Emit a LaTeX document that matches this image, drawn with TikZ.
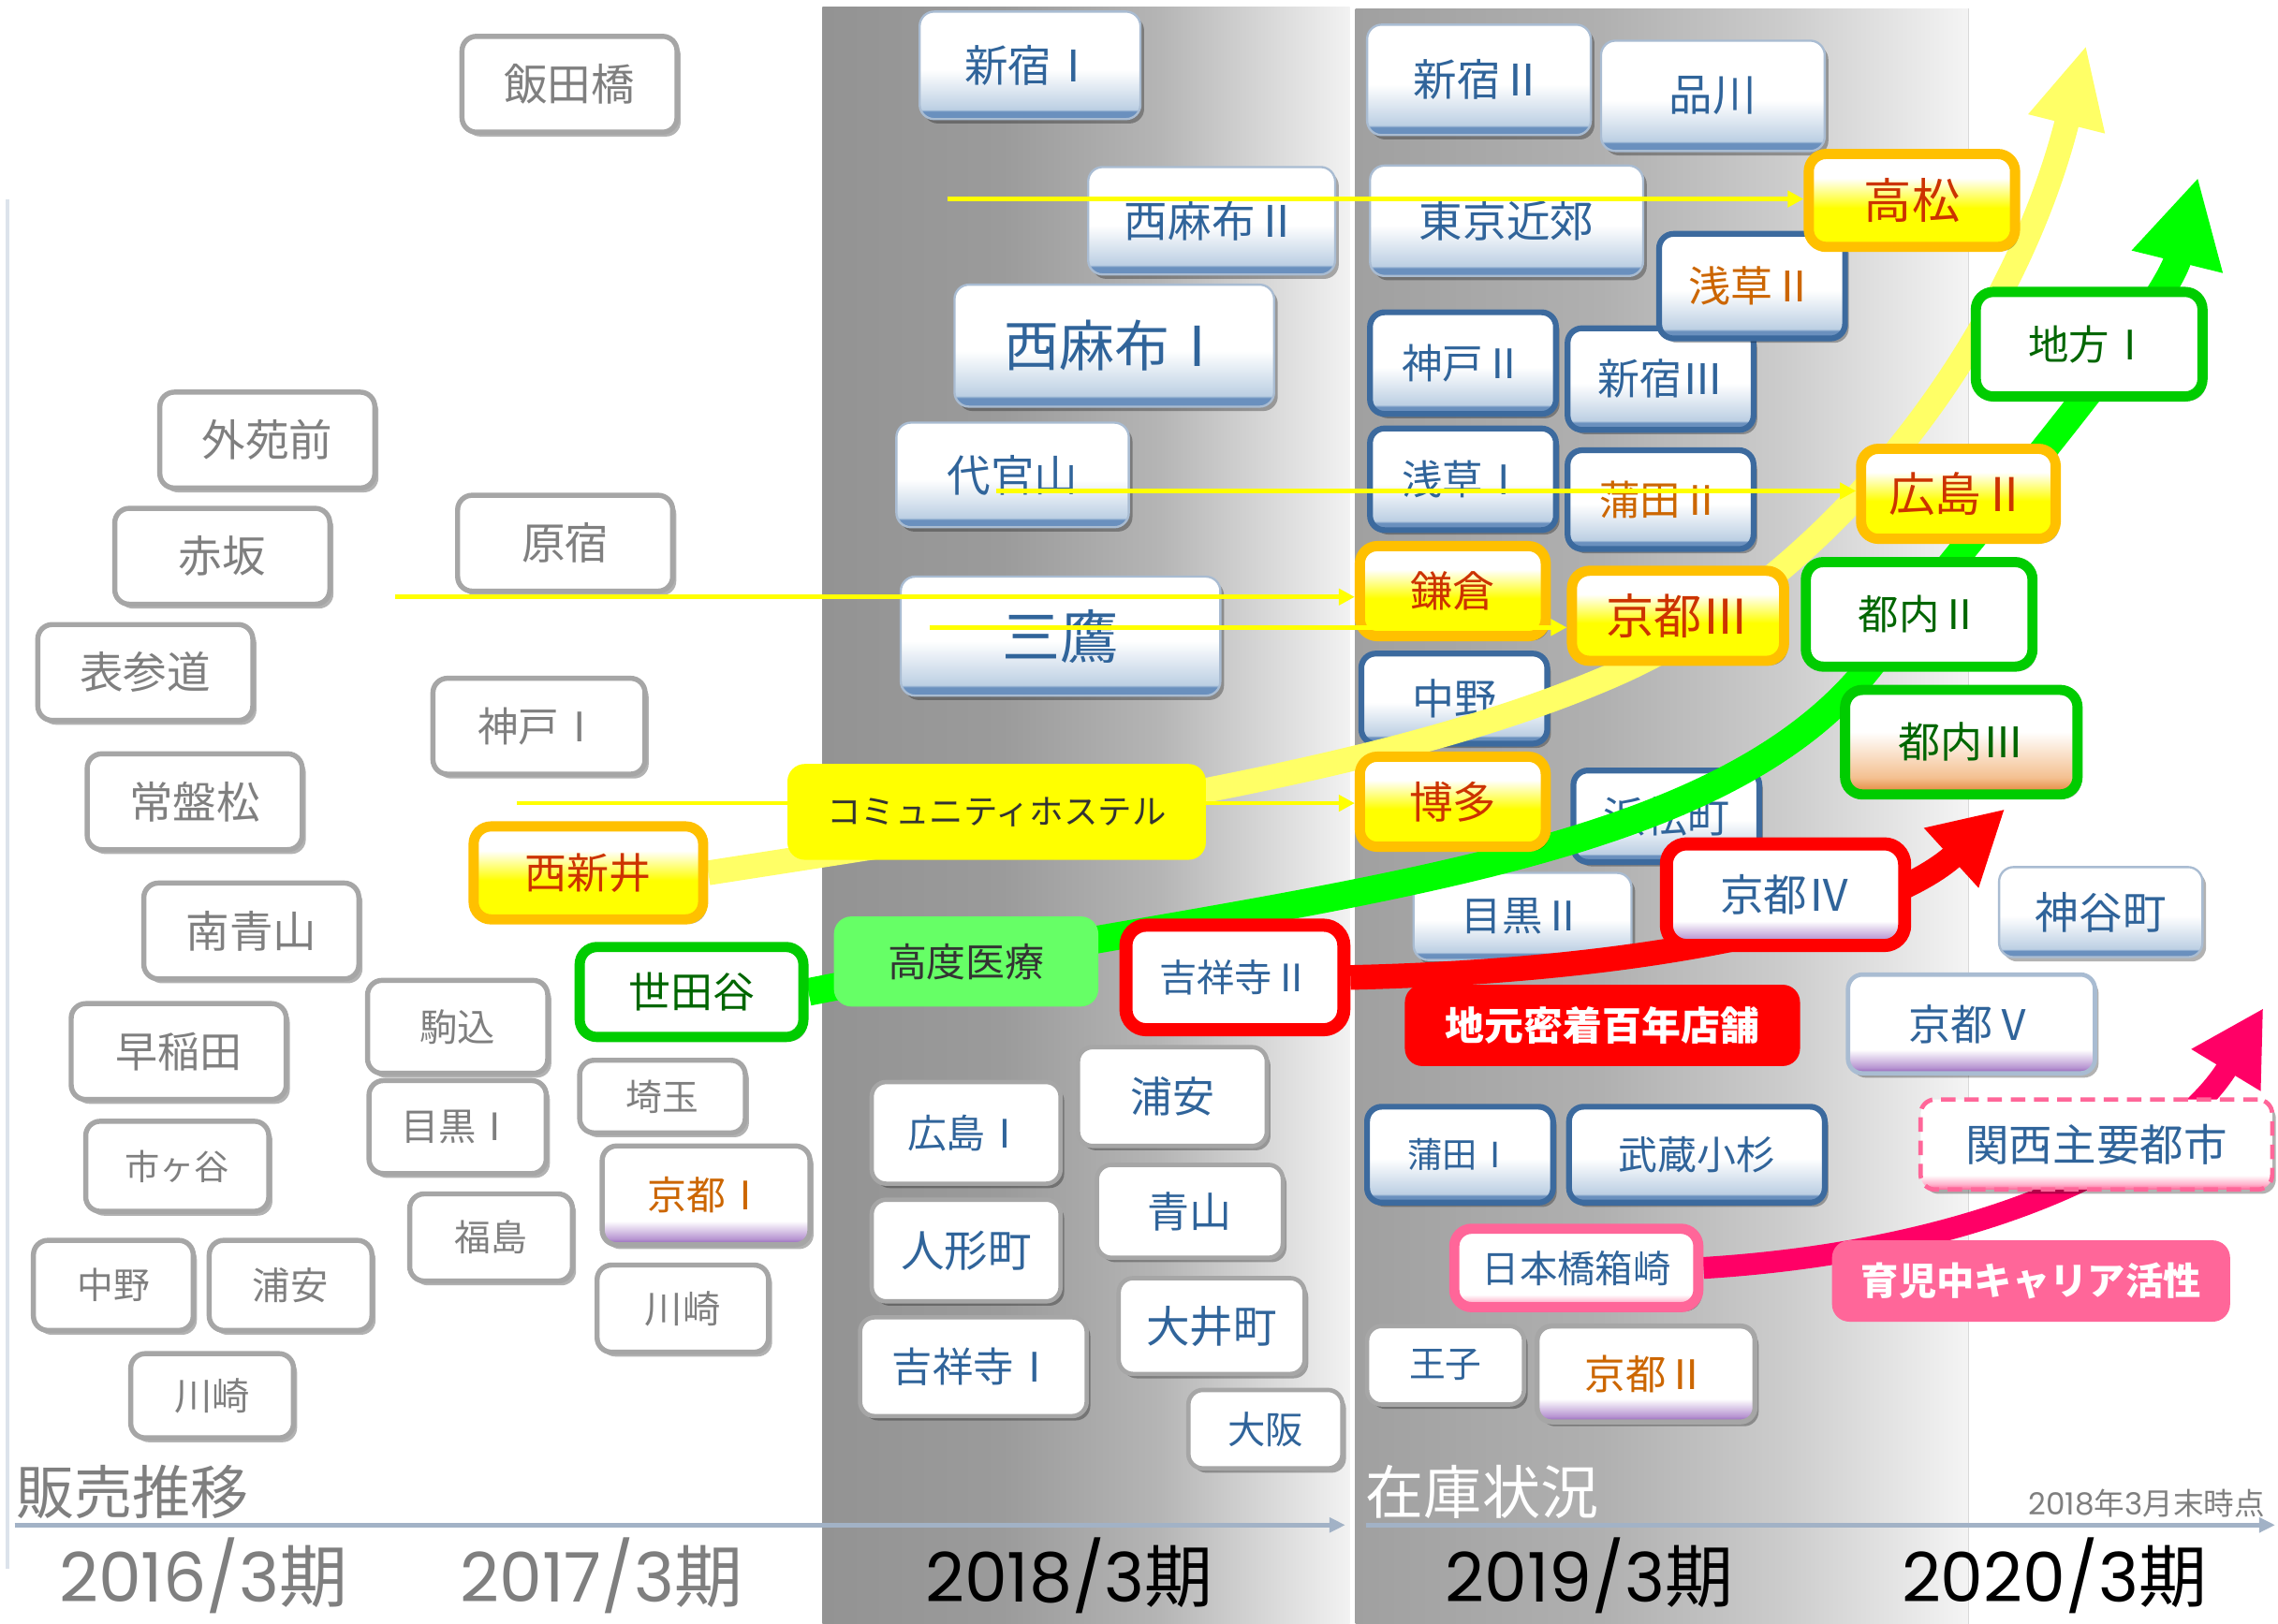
\documentclass[tikz,border=0pt]{standalone}
\usepackage{fontspec}
\setmainfont{Noto Sans CJK JP}
\newfontfamily\pop{Poppins}
\usetikzlibrary{arrows.meta,shadows}
\pgfdeclarelayer{bg}\pgfdeclarelayer{plain}\pgfdeclarelayer{arrows}\pgfdeclarelayer{front}
\pgfsetlayers{bg,plain,arrows,main,front}

\definecolor{txgray}{HTML}{7F7F7F}
\definecolor{bdgray}{HTML}{A6A6A6}
\definecolor{txblue}{HTML}{30649A}
\definecolor{bdblue}{HTML}{3C6A9E}
\definecolor{bdlblue}{HTML}{A9BCD2}
\definecolor{bstrip}{HTML}{6A90BE}
\definecolor{blight}{HTML}{BCCFE3}
\definecolor{txorange}{HTML}{CC6600}
\definecolor{txred}{HTML}{CC3300}
\definecolor{bdorange}{HTML}{FFC000}
\definecolor{ylw}{HTML}{FFFF00}
\definecolor{lylw}{HTML}{FFFF66}
\definecolor{grn}{HTML}{00CC00}
\definecolor{brgrn}{HTML}{00FF00}
\definecolor{txgreen}{HTML}{006600}
\definecolor{purp}{HTML}{8C58B4}
\definecolor{purpl}{HTML}{B896D2}
\definecolor{pnk}{HTML}{FF6699}
\definecolor{pnkl}{HTML}{FFB3CC}
\definecolor{hotpink}{HTML}{FF0066}
\definecolor{orng}{HTML}{E07E2E}
\definecolor{orngl}{HTML}{F4C090}
\definecolor{axisc}{HTML}{A2B2C6}
\definecolor{lgreen}{HTML}{66FF66}
\definecolor{dtext}{HTML}{333333}
\definecolor{leftln}{HTML}{DCE3EB}
\definecolor{bAa}{HTML}{939393}
\definecolor{bAb}{HTML}{9B9B9B}
\definecolor{bAc}{HTML}{B5B5B5}
\definecolor{bAd}{HTML}{F2F2F2}
\definecolor{bBa}{HTML}{A0A0A0}
\definecolor{bBb}{HTML}{B0B0B0}
\definecolor{bBc}{HTML}{CCCCCC}
\definecolor{bBd}{HTML}{F4F4F4}

\pgfdeclareverticalshading{bluesh}{100bp}{color(0bp)=(bstrip); color(25bp)=(bstrip); color(28.5bp)=(bstrip); color(29.5bp)=(blight); color(48bp)=(white); color(100bp)=(white)}
\pgfdeclareverticalshading{yelsh}{100bp}{color(0bp)=(ylw); color(25bp)=(ylw); color(46bp)=(ylw); color(62bp)=(white); color(100bp)=(white)}
\pgfdeclareverticalshading{purpsh}{100bp}{color(0bp)=(purp); color(25bp)=(purp); color(28bp)=(purpl); color(37bp)=(white); color(100bp)=(white)}
\pgfdeclareverticalshading{pinksh}{100bp}{color(0bp)=(pnk); color(25bp)=(pnk); color(28bp)=(pnkl); color(33bp)=(white); color(100bp)=(white)}
\pgfdeclareverticalshading{orngsh}{100bp}{color(0bp)=(orng); color(25bp)=(orng); color(33bp)=(orngl); color(55bp)=(white); color(100bp)=(white)}
\pgfdeclarehorizontalshading{bandA}{100bp}{color(0bp)=(bAa); color(25bp)=(bAa); color(42bp)=(bAb); color(57bp)=(bAc); color(75bp)=(bAd); color(100bp)=(bAd)}
\pgfdeclarehorizontalshading{bandB}{100bp}{color(0bp)=(bBa); color(25bp)=(bBa); color(45bp)=(bBb); color(60bp)=(bBc); color(75bp)=(bBd); color(100bp)=(bBd)}

\newcommand\myfs[1]{\fontsize{#1}{#1}\selectfont}
\newcommand\mynode[8]{\node[#1, minimum width=#5pt, minimum height=#6pt, font=\myfs{#7}] (#2) at (#3,#4) {#8};}

\tikzset{
 shd/.style={drop shadow={shadow xshift=2.5pt, shadow yshift=-3pt, fill=black, opacity=0.3}},
 bx/.style={rounded corners=10pt, inner sep=0pt, shd},
 gbox/.style={bx, fill=white, draw=bdgray, line width=3.5pt, text=txgray},
 wbox/.style={bx, fill=white, draw=bdgray, line width=3pt, text=txblue},
 bbox/.style={bx, shade, shading=bluesh, draw=bdlblue, line width=1.5pt, text=txblue},
 tbbox/.style={bx, shade, shading=bluesh, draw=bdblue, line width=4pt, text=txblue},
 pbox/.style={bx, shade, shading=purpsh},
 obox/.style={bx, shade, shading=yelsh, draw=bdorange, line width=7pt, text=txred, rounded corners=12pt},
 grbox/.style={bx, fill=white, draw=grn, line width=7pt, text=txgreen, rounded corners=12pt},
 rbox/.style={bx, draw=red, line width=9pt, rounded corners=14pt},
 pkbox/.style={bx, shade, shading=pinksh, draw=pnk, line width=7pt, text=txblue, rounded corners=12pt},
 lbl/.style={rounded corners=12pt, inner sep=0pt},
 ylline/.style={draw=ylw, line width=3pt, -{Triangle[length=11pt,width=11pt]}},
 axisline/.style={draw=axisc, line width=3pt, -{Triangle[length=11pt,width=10pt]}},
}

\begin{document}
\begin{tikzpicture}[x=1pt,y=-1pt]
\useasboundingbox (0,0) rectangle (1568,1118);
\coordinate (ax1s) at (10,1050);
\coordinate (ax1e) at (926,1050);
\coordinate (ax2s) at (940,1050);
\coordinate (ax2e) at (1566,1050);
\coordinate (ytip) at (1436,31);
\coordinate (gtip) at (1513,122);
\coordinate (rtip) at (1380,557);
\coordinate (ptip) at (1558,694);
\coordinate (l1) at (652,137);
\coordinate (l2) at (686,338);
\coordinate (l3) at (272,411);
\coordinate (l4) at (640,432);
\coordinate (l5) at (356,553);

\begin{pgfonlayer}{bg}
\fill[white] (0,0) rectangle (1568,1118);
\shade[shading=bandA] (566,5) rectangle (929,1118);
\shade[shading=bandB] (933,6) rectangle (1355,1118);
\draw[line width=1pt, black!15] (1355,6) -- (1355,1118);
\draw[line width=2.5pt, leftln] (5,137) -- (5,1080);
\draw[axisline] (ax1s) -- (ax1e);
\draw[axisline] (ax2s) -- (ax2e);
\node[anchor=west, text=txgray, font=\myfs{40}, inner sep=0pt] (hanbai) at (11,1027) {販売推移};
\node[anchor=west, text=white, font=\myfs{40}, inner sep=0pt] (zaiko) at (940,1027) {在庫状況};
\node[anchor=east, text=txgray, font=\myfs{21}, inner sep=0pt] (asof) at (1559,1035) {{\pop 2018}年{\pop 3}月末時点};
\node[text=txgray, font=\myfs{47}, inner sep=0pt] (y16) at (140,1085) {{\pop 2016/3}期};
\node[text=txgray, font=\myfs{47}, inner sep=0pt] (y17) at (414,1085) {{\pop 2017/3}期};
\node[text=black, font=\myfs{47}, inner sep=0pt] (y18) at (736,1085) {{\pop 2018/3}期};
\node[text=black, font=\myfs{47}, inner sep=0pt] (y19) at (1094,1085) {{\pop 2019/3}期};
\node[text=black, font=\myfs{47}, inner sep=0pt] (y20) at (1414,1085) {{\pop 2020/3}期};
\end{pgfonlayer}

\begin{pgfonlayer}{plain}
\mynode{gbox}{iida}{392}{58}{148}{66}{30}{飯田橋}
\mynode{gbox}{gaien}{184}{303}{148}{66}{30}{外苑前}
\mynode{gbox}{akasaka}{153}{383}{148}{66}{30}{赤坂}
\mynode{gbox}{harajuku}{389}{374}{148}{66}{30}{原宿}
\mynode{gbox}{omote}{100}{463}{148}{66}{30}{表参道}
\mynode{gbox}{kobeA}{371}{500}{146}{66}{28}{神戸Ⅰ}
\mynode{gbox}{tokiwa}{134}{552}{148}{66}{30}{常盤松}
\mynode{gbox}{minami}{173}{641}{148}{66}{30}{南青山}
\mynode{gbox}{waseda}{123}{724}{148}{66}{29}{早稲田}
\mynode{gbox}{komagome}{315}{707}{124}{64}{26}{駒込}
\mynode{gbox}{meguroA}{315}{776}{122}{64}{26}{目黒Ⅰ}
\mynode{gbox}{fukushima}{338}{852}{112}{60}{25}{福島}
\mynode{gbox}{ichigaya}{122}{803}{126}{62}{24}{市ヶ谷}
\mynode{gbox}{nakanoL}{78}{885}{110}{62}{25}{中野}
\mynode{gbox}{urayasuL}{200}{885}{112}{62}{26}{浦安}
\mynode{gbox}{kawasakiL}{146}{961}{112}{58}{26}{川崎}
\mynode{gbox}{saitama}{456}{755}{114}{50}{25}{埼玉}
\mynode{gbox}{kawasakiR}{470}{901}{118}{60}{26}{川崎}
\mynode{pbox,draw=bdgray,line width=3.5pt,text=txorange}{kyotoA}{486}{823}{143}{68}{27}{京都Ⅰ}

\mynode{bbox}{shinjukuA}{709}{45}{152}{74}{30}{新宿Ⅰ}
\mynode{bbox}{nishiazabuB}{834}{152}{170}{74}{30}{西麻布Ⅱ}
\mynode{bbox}{nishiazabuA}{767}{238}{220}{84}{38}{西麻布Ⅰ}
\mynode{bbox}{daikanyama}{697}{327}{160}{72}{30}{代官山}
\mynode{bbox}{mitaka}{730}{438}{220}{82}{40}{三鷹}
\mynode{bbox}{shinjukuB}{1018}{55}{154}{76}{30}{新宿Ⅱ}
\mynode{bbox}{shinagawa}{1179}{66}{154}{76}{30}{品川}
\mynode{bbox}{kinko}{1037}{152}{188}{76}{30}{東京近郊}
\mynode{bbox}{meguroB}{1048}{631}{150}{60}{28}{目黒Ⅱ}
\mynode{bbox}{kamiya}{1446}{628}{140}{62}{30}{神谷町}
\mynode{tbbox}{kobeB}{1007}{250}{128}{70}{28}{神戸Ⅱ}
\mynode{tbbox}{shinjukuC}{1143}{261}{128}{70}{29}{新宿Ⅲ}
\mynode{tbbox,text=txorange}{asakusaB}{1206}{197}{128}{72}{29}{浅草Ⅱ}
\mynode{tbbox}{asakusaA}{1007}{330}{128}{70}{28}{浅草Ⅰ}
\mynode{tbbox,text=txorange}{kamataB}{1143}{344}{128}{68}{28}{蒲田Ⅱ}
\mynode{tbbox}{nakanoR}{1001}{481}{128}{62}{29}{中野}
\mynode{tbbox}{hamamatsu}{1147}{562}{128}{63}{29}{浜松町}
\mynode{tbbox}{kamataA}{1005}{795}{128}{66}{24}{蒲田Ⅰ}
\mynode{tbbox}{musashi}{1168}{795}{176}{66}{27}{武蔵小杉}

\mynode{wbox}{hiroshimaA}{665}{780}{130}{70}{27}{広島Ⅰ}
\mynode{wbox}{urayasuM}{807}{755}{130}{68}{29}{浦安}
\mynode{wbox}{aoyama}{819}{834}{128}{64}{29}{青山}
\mynode{wbox}{ningyo}{665}{861}{130}{70}{30}{人形町}
\mynode{wbox}{oimachi}{834}{913}{128}{66}{30}{大井町}
\mynode{wbox}{kichijojiA}{670}{941}{156}{68}{28}{吉祥寺Ⅰ}
\mynode{wbox}{osaka}{871}{984}{106}{54}{26}{大阪}
\mynode{wbox}{oji}{995}{940}{108}{54}{25}{王子}
\mynode{pbox,draw=bdgray,line width=3.5pt,text=txorange}{kyotoB}{1133}{946}{150}{66}{28}{京都Ⅱ}
\mynode{pbox,draw=bdlblue,line width=3pt,text=txblue}{kyotoE}{1357}{705}{170}{68}{29}{京都Ⅴ}
\end{pgfonlayer}

\mynode{obox}{nishiarai}{405}{601}{158}{64}{29}{西新井}
\mynode{obox}{kamakura}{1000}{407}{128}{62}{29}{鎌倉}
\mynode{obox}{kyotoC}{1155}{424}{146}{62}{33}{京都Ⅲ}
\mynode{obox}{hakata}{1000}{552}{128}{62}{30}{博多}
\mynode{obox}{takamatsu}{1316}{138}{142}{64}{33}{高松}
\mynode{obox}{hiroshimaB}{1348}{340}{134}{62}{32}{広島Ⅱ}
\mynode{grbox}{setagaya}{476}{683}{154}{62}{29}{世田谷}
\mynode{grbox}{chihou}{1438}{237}{156}{72}{28}{地方Ⅰ}
\mynode{grbox}{tonaiB}{1321}{423}{156}{72}{28}{都内Ⅱ}
\mynode{grbox,shade,shading=orngsh}{tonaiC}{1350}{511}{160}{72}{29}{都内Ⅲ}
\mynode{rbox,fill=white,text=txblue}{kichijojiB}{850}{673}{150}{72}{26}{吉祥寺Ⅱ}
\mynode{rbox,shade,shading=purpsh,text=txblue}{kyotoD}{1229}{616}{164}{70}{30}{京都Ⅳ}
\mynode{pkbox}{nihonbashi}{1085}{873}{168}{54}{26}{日本橋箱崎}
\mynode{bx,shade,shading=pinksh,draw=pnk,line width=3pt,dash pattern=on 10pt off 6pt,text=txblue}{kansai}{1443}{788}{242}{62}{30}{関西主要都市}
\mynode{lbl,fill=lgreen,text=dtext}{koudo}{665}{662}{182}{62}{27}{高度医療}
\mynode{lbl,fill=red,text=white}{jimoto}{1103}{706}{272}{56}{27}{\bfseries 地元密着百年店舗}
\mynode{lbl,fill=pnk,text=white}{ikuji}{1398}{882}{274}{56}{26}{\bfseries 育児中キャリア活性}

\begin{pgfonlayer}{arrows}
\draw[lylw, line width=17pt, -{Triangle[length=56pt,width=50pt]}] (nishiarai.east) .. controls (750,560) and (960,530) .. (1110,465) .. controls (1260,400) and (1385,235) .. (ytip);
\draw[brgrn, line width=19pt, -{Triangle[length=60pt,width=60pt]}] (setagaya.east) .. controls (900,615) and (1180,600) .. (1290,455) .. controls (1345,383) and (1490,215) .. (gtip);
\draw[red, line width=17pt, -{Triangle[length=50pt,width=52pt]}] (kichijojiB.east) .. controls (1150,668) and (1300,630) .. (rtip);
\draw[hotpink, line width=15pt, -{Triangle[length=50pt,width=52pt]}] (nihonbashi.east) .. controls (1380,860) and (1500,790) .. (ptip);
\end{pgfonlayer}

\begin{pgfonlayer}{front}
\draw[ylline] (l5) -- (l5 -| hakata.west);
\mynode{lbl,fill=ylw,text=dtext}{community}{686}{559}{288}{66}{23.5}{コミュニティホステル}
\draw[ylline] (l1) -- (l1 -| takamatsu.west);
\draw[ylline] (l2) -- (l2 -| hiroshimaB.west);
\draw[ylline] (l3) -- (l3 -| kamakura.west);
\draw[ylline] (l4) -- (l4 -| kyotoC.west);
\end{pgfonlayer}
\end{tikzpicture}
\end{document}
